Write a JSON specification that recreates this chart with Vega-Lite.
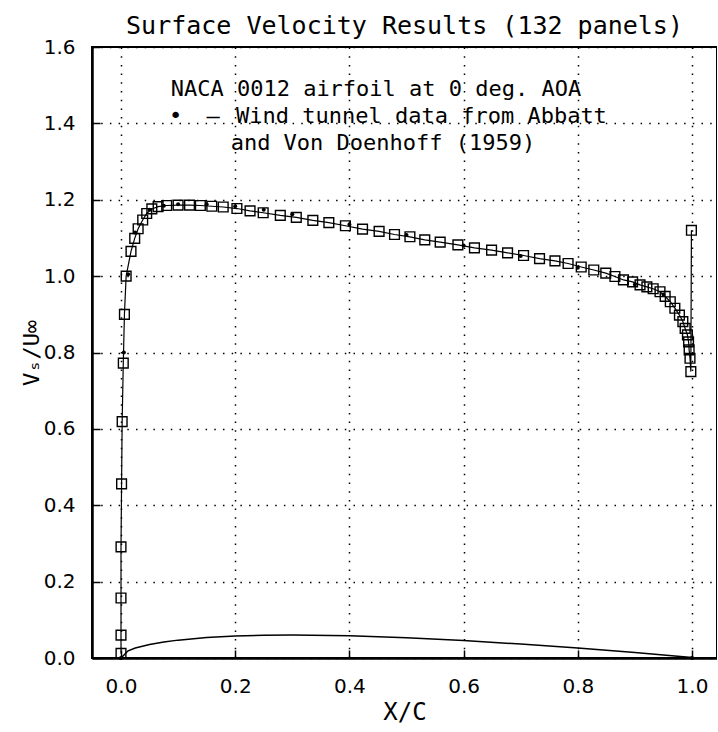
{
  "$schema": "https://vega.github.io/schema/vega-lite/v6.json",
  "autosize": "none",
  "padding": {"left": 92, "top": 47, "right": 0, "bottom": 74},
  "width": 625,
  "height": 611,
  "title": {"text": "Surface Velocity Results (132 panels)", "fontSize": 25, "font": "DejaVu Sans Mono", "fontWeight": "normal", "anchor": "middle", "frame": "group", "offset": 0, "dy": 2, "color": "black"},
  "config": {
    "font": "DejaVu Sans",
    "view": {"stroke": "black", "strokeWidth": 2},
    "axis": {
      "domainColor": "black", "domainWidth": 2.5,
      "tickColor": "black", "tickWidth": 1.5, "tickSize": -8,
      "grid": true, "gridColor": "black", "gridDash": [1.5, 7.2], "gridWidth": 1.5, "gridOpacity": 1,
      "labelFont": "DejaVu Sans", "labelFontSize": 20, "labelColor": "black",
      "titleFont": "DejaVu Sans Mono", "titleFontWeight": "normal", "titleColor": "black"
    }
  },
  "datasets": {
    "panel": [
      {"i": 1, "x": 0.000, "v": 0.012}, {"i": 2, "x": 0.000, "v": 0.060}, {"i": 3, "x": 0.000, "v": 0.157},
      {"i": 4, "x": 0.000, "v": 0.291}, {"i": 5, "x": 0.001, "v": 0.456}, {"i": 6, "x": 0.002, "v": 0.619},
      {"i": 7, "x": 0.004, "v": 0.772}, {"i": 8, "x": 0.006, "v": 0.900}, {"i": 9, "x": 0.009, "v": 1.000},
      {"i": 10, "x": 0.0175, "v": 1.065}, {"i": 11, "x": 0.024, "v": 1.099}, {"i": 12, "x": 0.030, "v": 1.124},
      {"i": 13, "x": 0.038, "v": 1.147}, {"i": 14, "x": 0.045, "v": 1.164}, {"i": 15, "x": 0.054, "v": 1.176},
      {"i": 16, "x": 0.065, "v": 1.182}, {"i": 17, "x": 0.080, "v": 1.185}, {"i": 18, "x": 0.100, "v": 1.186},
      {"i": 19, "x": 0.120, "v": 1.186}, {"i": 20, "x": 0.139, "v": 1.185}, {"i": 21, "x": 0.159, "v": 1.183},
      {"i": 22, "x": 0.179, "v": 1.181}, {"i": 23, "x": 0.203, "v": 1.177}, {"i": 24, "x": 0.226, "v": 1.171},
      {"i": 25, "x": 0.249, "v": 1.166}, {"i": 26, "x": 0.279, "v": 1.159}, {"i": 27, "x": 0.307, "v": 1.154},
      {"i": 28, "x": 0.336, "v": 1.146}, {"i": 29, "x": 0.364, "v": 1.140}, {"i": 30, "x": 0.393, "v": 1.132},
      {"i": 31, "x": 0.423, "v": 1.123}, {"i": 32, "x": 0.452, "v": 1.117}, {"i": 33, "x": 0.479, "v": 1.109},
      {"i": 34, "x": 0.506, "v": 1.103}, {"i": 35, "x": 0.532, "v": 1.095}, {"i": 36, "x": 0.559, "v": 1.089},
      {"i": 37, "x": 0.590, "v": 1.082}, {"i": 38, "x": 0.619, "v": 1.074}, {"i": 39, "x": 0.649, "v": 1.068},
      {"i": 40, "x": 0.677, "v": 1.061}, {"i": 41, "x": 0.705, "v": 1.054}, {"i": 42, "x": 0.733, "v": 1.046},
      {"i": 43, "x": 0.760, "v": 1.040}, {"i": 44, "x": 0.783, "v": 1.033}, {"i": 45, "x": 0.806, "v": 1.024},
      {"i": 46, "x": 0.828, "v": 1.016}, {"i": 47, "x": 0.849, "v": 1.008}, {"i": 48, "x": 0.865, "v": 0.999},
      {"i": 49, "x": 0.880, "v": 0.990}, {"i": 50, "x": 0.896, "v": 0.985}, {"i": 51, "x": 0.909, "v": 0.977},
      {"i": 52, "x": 0.921, "v": 0.972}, {"i": 53, "x": 0.932, "v": 0.967}, {"i": 54, "x": 0.944, "v": 0.959},
      {"i": 55, "x": 0.953, "v": 0.947}, {"i": 56, "x": 0.962, "v": 0.933}, {"i": 57, "x": 0.970, "v": 0.916},
      {"i": 58, "x": 0.978, "v": 0.898}, {"i": 59, "x": 0.984, "v": 0.881}, {"i": 60, "x": 0.988, "v": 0.863},
      {"i": 61, "x": 0.992, "v": 0.846}, {"i": 62, "x": 0.994, "v": 0.828}, {"i": 63, "x": 0.995, "v": 0.807},
      {"i": 64, "x": 0.9965, "v": 0.785}, {"i": 65, "x": 0.998, "v": 0.750}, {"i": 66, "x": 0.999, "v": 1.120}
    ],
    "tunnel": [
      {"x": 0.0, "v": 0.0}, {"x": 0.005, "v": 0.800}, {"x": 0.0125, "v": 1.005}, {"x": 0.025, "v": 1.114},
      {"x": 0.05, "v": 1.174}, {"x": 0.075, "v": 1.184}, {"x": 0.1, "v": 1.188}, {"x": 0.15, "v": 1.188},
      {"x": 0.2, "v": 1.183}, {"x": 0.25, "v": 1.174}, {"x": 0.3, "v": 1.162}, {"x": 0.4, "v": 1.135},
      {"x": 0.5, "v": 1.108}, {"x": 0.6, "v": 1.080}, {"x": 0.7, "v": 1.053}, {"x": 0.8, "v": 1.022},
      {"x": 0.9, "v": 0.978}, {"x": 0.95, "v": 0.952}, {"x": 1.0, "v": 0.0}
    ],
    "airfoil": [
      {"x": 0.0, "v": 0.0}, {"x": 0.0125, "v": 0.0189}, {"x": 0.025, "v": 0.0262}, {"x": 0.05, "v": 0.0356},
      {"x": 0.075, "v": 0.042}, {"x": 0.1, "v": 0.0468}, {"x": 0.15, "v": 0.0534}, {"x": 0.2, "v": 0.0574},
      {"x": 0.25, "v": 0.0596}, {"x": 0.3, "v": 0.0601}, {"x": 0.4, "v": 0.058}, {"x": 0.5, "v": 0.0529},
      {"x": 0.6, "v": 0.0456}, {"x": 0.7, "v": 0.0366}, {"x": 0.8, "v": 0.0262}, {"x": 0.9, "v": 0.0145},
      {"x": 0.95, "v": 0.0081}, {"x": 1.0, "v": 0.0013}
    ],
    "notes": [
      {"x": 0.087, "v": 1.4725, "label": "NACA 0012 airfoil at 0 deg. AOA"},
      {"x": 0.084, "v": 1.400, "label": "•"},
      {"x": 0.1496, "v": 1.400, "label": "–"},
      {"x": 0.2014, "v": 1.400, "label": "Wind tunnel data from Abbatt"},
      {"x": 0.192, "v": 1.330, "label": "and Von Doenhoff (1959)"}
    ]
  },
  "encoding": {
    "x": {
      "field": "x", "type": "quantitative",
      "scale": {"domain": [-0.0508, 1.0438], "nice": false, "zero": false},
      "axis": {"values": [0, 0.2, 0.4, 0.6, 0.8, 1.0], "format": ".1f", "title": "X/C", "titleFontSize": 24, "labelPadding": 26, "titlePadding": 4}
    },
    "y": {
      "field": "v", "type": "quantitative",
      "scale": {"domain": [0, 1.6], "nice": false, "zero": false},
      "axis": {"values": [0, 0.2, 0.4, 0.6, 0.8, 1.0, 1.2, 1.4, 1.6], "format": ".1f", "title": "Vₛ/U∞", "titleFontSize": 22, "labelPadding": 25, "titlePadding": 0}
    }
  },
  "layer": [
    {"data": {"name": "airfoil"}, "mark": {"type": "line", "color": "black", "strokeWidth": 1.5, "clip": true}, "encoding": {"order": {"field": "x", "type": "quantitative"}}},
    {"data": {"name": "panel"}, "mark": {"type": "line", "color": "black", "strokeWidth": 1.2}, "encoding": {"order": {"field": "i", "type": "quantitative"}}},
    {"data": {"name": "panel"}, "mark": {"type": "point", "shape": "square", "filled": false, "color": "black", "strokeWidth": 1.4, "size": 95, "opacity": 1}},
    {"data": {"name": "tunnel"}, "mark": {"type": "circle", "color": "black", "size": 16, "opacity": 1}},
    {"data": {"name": "notes"}, "mark": {"type": "text", "align": "left", "baseline": "alphabetic", "fontSize": 22, "font": "DejaVu Sans Mono", "color": "black"}, "encoding": {"text": {"field": "label", "type": "nominal"}}}
  ]
}
